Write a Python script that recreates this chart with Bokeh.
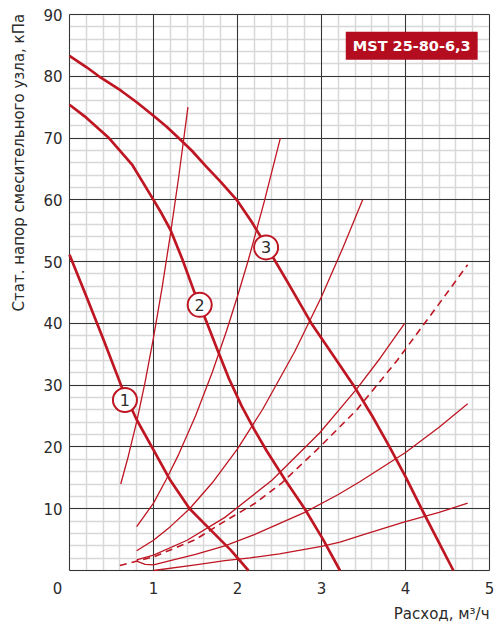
from bokeh.plotting import figure
from bokeh.models import SingleIntervalTicker, Label, Range1d, Grid
from bokeh.embed import file_html
from bokeh.resources import INLINE
from bokeh.core.properties import value

# ---------------- data ----------------
# pump curves (thick)
c1_x = [0, 0.2, 0.41, 0.63, 0.8, 0.98, 1.2, 1.43, 1.7, 1.92, 2.13]
c1_y = [51.1, 44.4, 37.2, 29.4, 24.4, 20.0, 14.6, 10.0, 6.3, 3.3, 0]
c2_x = [0, 0.2, 0.47, 0.75, 1.0, 1.1, 1.2, 1.34, 1.48, 1.61, 1.75, 1.9, 2.05, 2.2, 2.35,
        2.57, 2.8, 3.02, 3.22]
c2_y = [75.4, 73.3, 70.0, 65.6, 60.0, 57.7, 55.2, 50.5, 45.3, 41.0, 36.1, 31.0, 26.6, 22.8,
        19.3, 14.6, 10.0, 5.0, 0]
c3_x = [0, 0.2, 0.35, 0.61, 0.8, 1.0, 1.15, 1.3, 1.46, 1.62, 1.8, 1.99, 2.17, 2.34, 2.6,
        2.88, 3.13, 3.38, 3.6, 3.81, 4.0, 4.19, 4.38, 4.57]
c3_y = [83.3, 81.5, 80.0, 77.7, 75.8, 73.6, 71.9, 70.0, 67.9, 65.5, 62.9, 60.0, 56.4, 52.6,
        46.6, 40.0, 35.0, 30.0, 25.1, 20.0, 15.2, 10.0, 5.0, 0]

# system characteristics (thin)
sa_x = [0.61, 0.7, 0.8, 0.9, 1.0, 1.1, 1.2, 1.3, 1.41]
sa_y = [14.0, 18.5, 24.1, 30.5, 37.7, 45.6, 54.3, 63.7, 75.0]
sb_x = [0.8, 1.0, 1.15, 1.3, 1.5, 1.7, 1.87, 2.0, 2.13, 2.32, 2.51]
sb_y = [7.1, 10.9, 14.7, 18.8, 25.0, 32.1, 38.8, 44.4, 50.3, 59.8, 70.0]
sc_x = [0.8, 1.0, 1.2, 1.43, 1.7, 2.0, 2.3, 2.68, 3.0, 3.25, 3.49]
sc_y = [3.2, 4.9, 7.1, 10.0, 14.2, 19.7, 26.1, 35.4, 44.3, 52.1, 60.0]
sd_x = [0.8, 1.0, 1.4, 1.85, 2.41, 2.98, 3.42, 3.7, 3.99]
sd_y = [1.7, 2.5, 4.9, 8.6, 14.6, 22.3, 29.4, 34.4, 40.0]
se_x = [0.6, 1.0, 1.5, 1.79, 2.2, 2.53, 2.98, 3.42, 3.9, 4.39, 4.74]
se_y = [0.8, 2.2, 5.0, 7.5, 10.8, 14.2, 20.0, 26.0, 34.0, 43.0, 49.5]
sf_x = [0.8, 0.9, 1.0, 1.2, 1.5, 1.85, 2.2, 2.8, 3.2, 3.46, 4.0, 4.4, 4.74]
sf_y = [1.5, 1.0, 0.9, 1.6, 2.6, 4.0, 5.8, 9.4, 12.3, 14.4, 19.1, 23.2, 27.0]
sg_x = [1.0, 1.5, 1.85, 2.15, 2.5, 3.0, 3.22, 3.5, 3.97, 4.4, 4.74]
sg_y = [0, 0.9, 1.6, 2.05, 2.7, 3.9, 4.6, 5.8, 7.8, 9.4, 10.9]

# curve number markers
lab_x = [0.66, 1.55, 2.34]
lab_y = [27.6, 43.0, 52.3]
lab_t = ["1", "2", "3"]

# axes
x_ticks = [1, 2, 3, 4, 5]
x_tick_labels = ["1", "2", "3", "4", "5"]
y_ticks = [10, 20, 30, 40, 50, 60, 70, 80, 90]
y_tick_labels = ["10", "20", "30", "40", "50", "60", "70", "80", "90"]
origin_label = "0"
x_min, x_max = 0, 5
y_min, y_max = 0, 90

x_title = "Расход, м³/ч"
y_title = "Стат. напор  смесительного узла, кПа"
badge = "MST 25-80-6,3"

# ---------------- styling / layout ----------------
RED = "#be1622"
BOX = "#b40d1f"
DARK = "#353535"
TXT = "#2b2b2b"
MINOR = "#d8d8d8"
FONT = "DejaVu Sans"

W, H = 499, 630
LEFT, TOP, FW, FH = 69, 14, 420, 556     # pixel box of the chart area
PX = FW / (x_max - x_min)
PY = FH / (y_max - y_min)

p = figure(width=W, height=H,
           x_range=Range1d(x_min - LEFT / PX, x_max + (W - LEFT - FW) / PX),
           y_range=Range1d(y_min - (H - TOP - FH) / PY, y_max + TOP / PY),
           output_backend="svg", toolbar_location=None, min_border=0)
p.background_fill_color = "white"
p.border_fill_color = "white"
p.outline_line_color = None
p.xaxis.visible = False
p.yaxis.visible = False
p.xgrid.visible = False
p.ygrid.visible = False

xt = SingleIntervalTicker(interval=1, num_minor_ticks=5)
yt = SingleIntervalTicker(interval=10, num_minor_ticks=5)

if "cross_bounds" in Grid.properties():
    for major in (False, True):
        gx = Grid(dimension=0, ticker=xt, bounds=(x_min, x_max), cross_bounds=(y_min, y_max))
        gy = Grid(dimension=1, ticker=yt, bounds=(y_min, y_max), cross_bounds=(x_min, x_max))
        for g in (gx, gy):
            if major:
                g.grid_line_color = DARK
                g.grid_line_width = 1
                g.minor_grid_line_color = None
            else:
                g.grid_line_color = None
                g.minor_grid_line_color = MINOR
                g.minor_grid_line_width = 1.5
            p.add_layout(g)
else:
    mx = [x_min + i * 0.2 for i in range(26)]
    my = [y_min + i * 2 for i in range(46)]
    p.segment(mx, y_min, mx, y_max, line_color=MINOR, line_width=1.5)
    p.segment(x_min, my, x_max, my, line_color=MINOR, line_width=1.5)
    MX = [x_min] + x_ticks
    MY = [y_min] + y_ticks
    p.segment(MX, y_min, MX, y_max, line_color=DARK, line_width=1)
    p.segment(x_min, MY, x_max, MY, line_color=DARK, line_width=1)

# thin system curves
for xs, ys in [(sa_x, sa_y), (sb_x, sb_y), (sc_x, sc_y), (sd_x, sd_y), (sf_x, sf_y), (sg_x, sg_y)]:
    p.line(xs, ys, line_color=RED, line_width=1.3, line_join="round")
p.line(se_x, se_y, line_color=RED, line_width=1.6, line_dash="7 5")

# thick pump curves
for xs, ys in [(c1_x, c1_y), (c2_x, c2_y), (c3_x, c3_y)]:
    p.line(xs, ys, line_color=RED, line_width=2.7, line_join="round")

p.scatter(lab_x, lab_y, marker="circle", size=24, fill_color="white",
          line_color=RED, line_width=2)
p.text(lab_x, lab_y, text=lab_t, text_align="center", text_baseline="middle",
       text_font=value(FONT), text_font_size="16px", text_color=TXT)

# tick labels
for t, s in zip(x_ticks, x_tick_labels):
    p.add_layout(Label(x=t, y=y_min, text=s, y_offset=-17, text_align="center",
                       text_baseline="middle", text_font=FONT, text_font_size="15px",
                       text_color=TXT))
for t, s in zip(y_ticks, y_tick_labels):
    p.add_layout(Label(x=x_min, y=t, text=s, x_offset=-7, text_align="right",
                       text_baseline="middle", text_font=FONT, text_font_size="15px",
                       text_color=TXT))
p.add_layout(Label(x=x_min, y=y_min, text=origin_label, x_offset=-12, y_offset=-17,
                   text_align="center", text_baseline="middle",
                   text_font=FONT, text_font_size="15px", text_color=TXT))

# axis titles
p.add_layout(Label(x=x_max, y=y_min, text=x_title, y_offset=-43,
                   text_align="right", text_baseline="middle",
                   text_font=FONT, text_font_size="15px", text_color=TXT))
p.add_layout(Label(x=x_min, y=66.4, text=y_title, x_offset=-51, angle=90, angle_units="deg",
                   text_align="center", text_baseline="middle",
                   text_font=FONT, text_font_size="15px", text_color=TXT))

# model badge
p.add_layout(Label(x=4.074, y=84.93, text=badge, text_align="center", text_baseline="middle",
                   text_font=FONT, text_font_size="14.5px", text_font_style="bold",
                   text_color="white", background_fill_color=BOX, padding=(7, 6)))

open("out.html", "w").write(file_html(p, INLINE))
